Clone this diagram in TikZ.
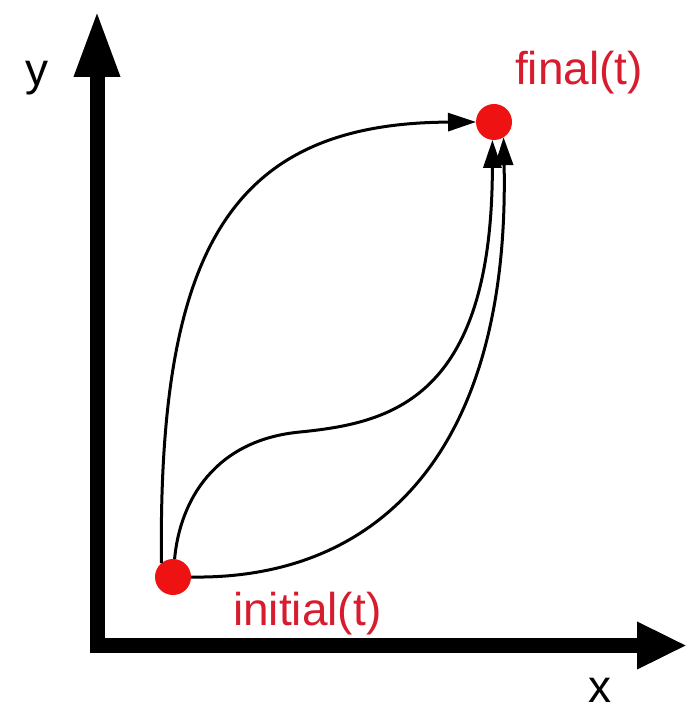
\documentclass[tikz,border=0pt]{standalone}
\usepackage{fontspec}
\setmainfont{Liberation Sans}
\usetikzlibrary{arrows.meta}
\definecolor{dotred}{RGB}{238,18,18}
\definecolor{labelred}{RGB}{214,28,46}
\begin{document}
\begin{tikzpicture}[x=1pt,y=-1pt,
  axis/.style={line width=15pt,line join=miter,black},
  pathline/.style={line width=3pt,black,-{Triangle[length=28pt,width=18pt]}},
  statedot/.style={circle,fill=dotred,draw=none,minimum size=36pt,inner sep=0pt,outer sep=0pt},
  lbl/.style={font=\fontsize{46}{52}\selectfont,inner sep=0pt,anchor=base west},
  redlbl/.style={lbl,text=labelred}]
\useasboundingbox (0,0) rectangle (687,711);
% axes
\coordinate (O) at (97,645.5);
\coordinate (xend) at (687,645.5);
\coordinate (yend) at (97,10);
\draw[axis,{Triangle[length=50pt,width=44pt]}-{Triangle[length=67pt,width=42pt]}] (xend) -- (O) -- (yend);
\node[lbl] (ylabel) at (25,86) {y};
\node[lbl] (xlabel) at (588,702) {x};
% states
\node[statedot] (initial) at (173,577) {};
\node[statedot] (final) at (494,122) {};
\node[redlbl] (initiallabel) at (233,625) {initial(t)};
\node[redlbl] (finallabel) at (515,85) {final(t)};
% paths
\draw[pathline] (initial.130) .. controls (158,250) and (230,123) .. (final.west);
\draw[pathline] (initial.85) .. controls (180,500) and (215,440) .. (300,432)
                 .. controls (390,423) and (492,400) .. (final.-95);
\draw[pathline] (initial.east) .. controls (380,580) and (510,450) .. (final.-58);
\end{tikzpicture}
\end{document}
